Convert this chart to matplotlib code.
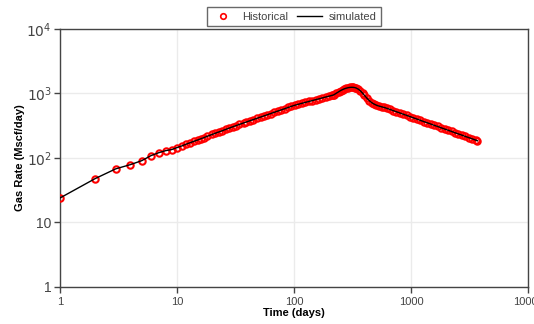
import numpy as np
import matplotlib
matplotlib.use("Agg")
import matplotlib.pyplot as plt
from matplotlib.ticker import FixedLocator, FixedFormatter, NullLocator

plt.rcParams['font.family'] = ['Liberation Sans', 'DejaVu Sans']

# time (days) and gas rate (Mscf/day)
time_days = [1, 2, 3, 4, 5, 6, 7, 8, 9, 10,
             11, 12, 13, 14, 15, 16, 17, 18, 20, 21, 23, 24, 26, 28, 30,
             32, 34, 37, 39, 42, 45, 48, 52, 55, 59, 63, 68, 73, 78, 83, 89, 95,
             102, 109, 117, 125, 134, 143, 153, 164, 175, 188, 201, 210, 215,
             220, 230, 240, 250, 260, 270, 280, 290, 300, 310, 320, 330, 340,
             355, 370, 385, 400, 420, 440, 460, 480, 505, 530, 560, 590,
             620, 660, 700, 750, 800, 860, 920, 980, 1050, 1120, 1200, 1290,
             1380, 1480, 1580, 1690, 1810, 1940, 2070, 2220, 2380, 2540, 2720,
             2910, 3120, 3340, 3580, 3700]
gas_rate = [24, 48, 68, 79, 91, 109, 121, 130, 135, 145,
            154, 164, 173, 182, 190, 199, 207, 216, 232, 240, 255, 262, 277, 291, 305,
            318, 331, 349, 361, 378, 395, 411, 432, 448, 468, 488, 512, 535, 558, 580, 607, 632,
            659, 681, 705, 728, 752, 776, 802, 828, 855, 885, 912, 933, 942,
            960, 1010, 1060, 1110, 1150, 1185, 1210, 1230, 1243, 1248, 1245, 1235, 1215,
            1165, 1095, 1015, 935, 845, 775, 725, 690, 660, 640, 622, 608,
            590, 567, 545, 521, 500, 477, 457, 439, 419, 402, 384, 366,
            351, 335, 321, 308, 294, 281, 270, 258, 246, 236, 226,
            216, 207, 198, 189, 185]
simulated = gas_rate

decades = [1, 10, 100, 1000, 10000]
x_labels = ['1', '10', '100', '1000', '10000']
y_labels = ['1', '10', '$10^2$', '$10^3$', '$10^4$']

fig = plt.figure(figsize=(5.34, 3.24), dpi=100)
ax = fig.add_axes([0.1124, 0.1142, 0.8764, 0.7963])

ax.plot(time_days, gas_rate, 'o', mfc='none', mec='red', ms=4.6, mew=1.5,
        label='Historical', zorder=3)
ax.plot(time_days, simulated, '-', color='black', lw=1, label='simulated', zorder=4)

ax.set_xscale('log')
ax.set_yscale('log')
ax.set_xlim(1, 10000)
ax.set_ylim(1, 10000)
ax.xaxis.set_major_locator(FixedLocator(decades))
ax.xaxis.set_major_formatter(FixedFormatter(x_labels))
ax.yaxis.set_major_locator(FixedLocator(decades))
ax.yaxis.set_major_formatter(FixedFormatter(y_labels))
ax.xaxis.set_minor_locator(NullLocator())
ax.yaxis.set_minor_locator(NullLocator())

ax.grid(True, color='#ebebeb', lw=1)
ax.set_axisbelow(True)
for s in ax.spines.values():
    s.set_color('#444444')
    s.set_linewidth(1)
ax.tick_params(axis='x', colors='#444444', labelsize=8, length=4, width=1, pad=3)
ax.tick_params(axis='y', colors='#444444', labelsize=10, length=4, width=1, pad=2)
for lab in ax.get_xticklabels() + ax.get_yticklabels():
    lab.set_color('#444444')

ax.set_xlabel('Time (days)', fontsize=8, fontweight='bold', labelpad=1)
ax.set_ylabel('Gas Rate (Mscf/day)', fontsize=8, fontweight='bold', labelpad=1)

leg = fig.legend(loc='upper center', bbox_to_anchor=(0.55, 0.995), ncol=2,
                 fontsize=8, frameon=True, fancybox=False, handlelength=2.2,
                 columnspacing=0.8, handletextpad=0.6, borderpad=0.4)
leg.get_frame().set_edgecolor('#444444')
leg.get_frame().set_linewidth(1)
for t in leg.get_texts():
    t.set_color('#444444')
leg.legend_handles[0].set_markersize(4)
leg.legend_handles[0].set_markeredgewidth(1.2)

fig.savefig('out.png', dpi=100)
